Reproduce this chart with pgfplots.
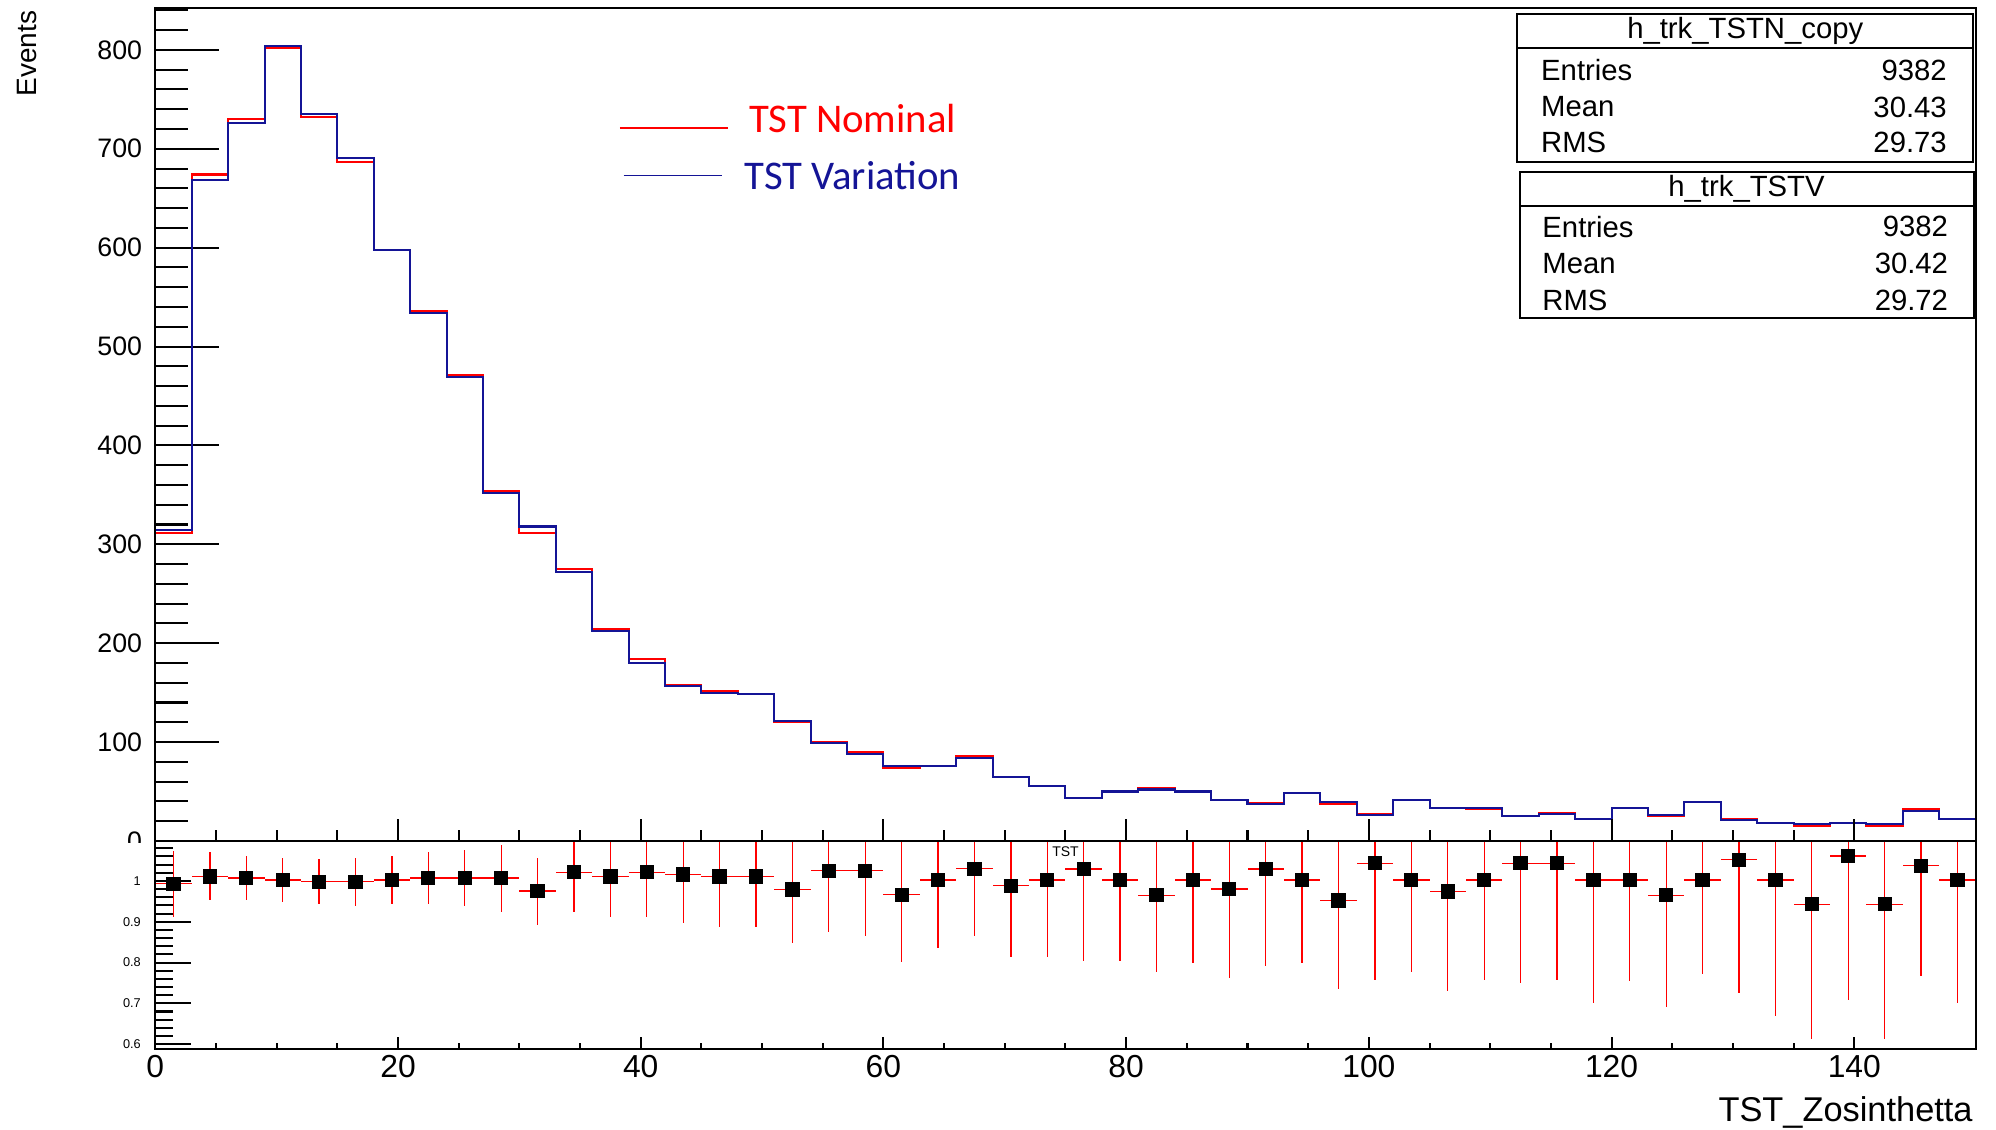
\documentclass[border=0pt]{standalone}
\usepackage{fontspec}
\setmainfont{Liberation Sans}
\newfontfamily\carlito{Carlito}
\usepackage{pgfplots}
\usepackage{pgfplotstable}
\pgfplotsset{compat=1.18}

\definecolor{rootred}{RGB}{255,0,0}
\definecolor{rootblue}{RGB}{20,20,150}

% bin left edges, nominal (n) and variation (v); last row closes the step
\pgfplotstableread{
x n v
0 311 314
3 674 668
6 730 726
9 802 804
12 732 735
15 687 691
18 598 598
21 536 534
24 471 469
27 354 352
30 311 318
33 275 272
36 214 212
39 184 180
42 158 157
45 152 150
48 149 149
51 120 121
54 100 99
57 90 88
60 74 76
63 76 76
66 86 84
69 65 65
72 56 56
75 43 43
78 50 50
81 54 52
84 50 50
87 41 41
90 38 37
93 48 48
96 37 39
99 27 26
102 41 41
105 33 33
108 32 33
111 25 25
114 28 27
117 22 22
120 33 33
123 25 26
126 39 39
129 22 21
132 18 18
135 15 17
138 18 18
141 15 17
144 32 30
147 22 22
150 22 22
}\histtab

% ratio nominal/variation with errors
\pgfplotstableread{
x y ex ey
1.5 0.993 1.5 0.081
4.5 1.011 1.5 0.059
7.5 1.007 1.5 0.055
10.5 1.002 1.5 0.054
13.5 0.998 1.5 0.055
16.5 0.998 1.5 0.059
19.5 1.002 1.5 0.059
22.5 1.007 1.5 0.064
25.5 1.007 1.5 0.068
28.5 1.007 1.5 0.082
31.5 0.975 1.5 0.082
34.5 1.021 1.5 0.096
37.5 1.011 1.5 0.100
40.5 1.021 1.5 0.110
43.5 1.016 1.5 0.118
46.5 1.011 1.5 0.123
49.5 1.011 1.5 0.123
52.5 0.979 1.5 0.131
55.5 1.025 1.5 0.150
58.5 1.025 1.5 0.159
61.5 0.966 1.5 0.164
64.5 1.002 1.5 0.167
67.5 1.030 1.5 0.164
70.5 0.988 1.5 0.175
73.5 1.002 1.5 0.189
76.5 1.029 1.5 0.226
79.5 1.002 1.5 0.199
82.5 0.965 1.5 0.189
85.5 1.002 1.5 0.203
88.5 0.980 1.5 0.218
91.5 1.029 1.5 0.238
94.5 1.002 1.5 0.203
97.5 0.952 1.5 0.217
100.5 1.043 1.5 0.285
103.5 1.002 1.5 0.226
106.5 0.974 1.5 0.243
109.5 1.002 1.5 0.244
112.5 1.043 1.5 0.293
115.5 1.043 1.5 0.285
118.5 1.002 1.5 0.300
121.5 1.002 1.5 0.248
124.5 0.965 1.5 0.275
127.5 1.002 1.5 0.230
130.5 1.052 1.5 0.327
133.5 1.002 1.5 0.334
136.5 0.943 1.5 0.331
139.5 1.061 1.5 0.352
142.5 0.943 1.5 0.331
145.5 1.037 1.5 0.269
148.5 1.002 1.5 0.300
}\ratiotab

\pgfplotsset{
  rootax/.style={
    scale only axis, width=715pt, xmin=0, xmax=150,
    axis line style={line width=0.8pt},
    major tick style={black, line width=0.8pt},
    minor tick style={black, line width=0.8pt},
    tick align=inside, tick pos=left,
    /pgf/number format/assume math mode=true,
  },
}

\begin{document}
\begin{tikzpicture}
\useasboundingbox (0,0) rectangle (784pt,-443.5pt);

% upper pad: histograms and y ticks
\begin{axis}[rootax, at={(61pt,-330.3pt)}, anchor=south west,
  height=327pt, ymin=0, ymax=842,
  ytick={0,100,...,900}, minor y tick num=4, xtick=\empty,
  major tick length=25pt, minor tick length=13pt,
  yticklabel style={font=\fontsize{10.5}{12}\selectfont, inner sep=0pt, xshift=-5pt},
]
\addplot[const plot, rootred, line width=0.8pt] table[x=x, y=n] {\histtab};
\addplot[const plot, rootblue, line width=0.8pt] table[x=x, y=v] {\histtab};
\end{axis}
% upper pad: x ticks
\begin{axis}[rootax, at={(61pt,-330.3pt)}, anchor=south west,
  height=327pt, ymin=0, ymax=842, ytick=\empty,
  xtick={0,20,...,140}, minor x tick num=3, xticklabels={},
  major tick length=8.8pt, minor tick length=4.2pt,
]
\end{axis}
\fill[white] (30pt,-331pt) rectangle (60pt,-340pt);

% lower pad: ratio and y ticks
\begin{axis}[rootax, at={(61pt,-330.3pt)}, anchor=north west,
  height=81.9pt, ymin=0.587, ymax=1.098,
  ytick={0.5,0.6,0.7,0.8,0.9,1,1.1}, minor y tick num=4, xtick=\empty,
  major tick length=14pt, minor tick length=6.8pt,
  yticklabel style={font=\fontsize{5}{6}\selectfont, inner sep=0pt, xshift=-5.5pt},
]
\addplot[only marks, mark=none, error bars/.cd, x dir=both, x explicit,
  y dir=both, y explicit, error bar style={rootred, line width=0.5pt}, error mark=none]
  table[x=x, y=y, x error=ex, y error=ey] {\ratiotab};
\addplot[only marks, mark=square*, mark size=2.6pt, black] table[x=x, y=y] {\ratiotab};
\node[font=\fontsize{5.5}{6}\selectfont, inner sep=0pt] at (axis cs:75,1.071) {TST};
\end{axis}
% lower pad: x ticks and labels
\begin{axis}[rootax, at={(61pt,-330.3pt)}, anchor=north west,
  height=81.9pt, ymin=0.587, ymax=1.098, ytick=\empty,
  xtick={0,20,...,140}, minor x tick num=3,
  major tick length=4.7pt, minor tick length=2.4pt,
  xticklabel style={font=\fontsize{12.5}{14}\selectfont, inner sep=0pt, yshift=-2pt},
]
\end{axis}

% axis titles
\node[rotate=90, anchor=east, inner sep=0pt, font=\fontsize{11}{12}\selectfont] at (10.5pt,-4pt) {Events};
\node[anchor=base east, inner sep=0pt, font=\fontsize{13.5}{15}\selectfont] at (775pt,-440.5pt) {TST\_Zosinthetta};

% legend
\draw[rootred, line width=0.6pt] (243.5pt,-50.2pt) -- (286pt,-50.2pt);
\node[anchor=base west, inner sep=0pt, text=rootred, font=\carlito\fontsize{16}{18}\selectfont] at (294pt,-52pt) {TST Nominal};
\draw[rootblue, line width=0.6pt] (244.9pt,-68.9pt) -- (283.5pt,-68.9pt);
\node[anchor=base west, inner sep=0pt, text=rootblue, font=\carlito\fontsize{16}{18}\selectfont] at (292.2pt,-74.4pt) {TST Variation};

% stat boxes
\begin{scope}[line width=0.7pt, every node/.style={inner sep=0pt, font=\fontsize{11.5}{13}\selectfont}]
\draw[fill=white] (596pt,-5.5pt) rectangle (775pt,-63.5pt);
\draw (596pt,-19pt) -- (775pt,-19pt);
\node at (685.5pt,-12.2pt) {h\_trk\_TSTN\_copy};
\node[anchor=west] at (605pt,-27.5pt) {Entries};
\node[anchor=east] at (765pt,-27.5pt) {9382};
\node[anchor=west] at (605pt,-42pt) {Mean};
\node[anchor=east] at (765pt,-42pt) {30.43};
\node[anchor=west] at (605pt,-56pt) {RMS};
\node[anchor=east] at (765pt,-56pt) {29.73};
\draw[fill=white] (597pt,-67.5pt) rectangle (775.5pt,-125pt);
\draw (597pt,-81pt) -- (775.5pt,-81pt);
\node at (686pt,-74.2pt) {h\_trk\_TSTV};
\node[anchor=west] at (605.5pt,-89pt) {Entries};
\node[anchor=east] at (765.5pt,-89pt) {9382};
\node[anchor=west] at (605.5pt,-103.5pt) {Mean};
\node[anchor=east] at (765.5pt,-103.5pt) {30.42};
\node[anchor=west] at (605.5pt,-118pt) {RMS};
\node[anchor=east] at (765.5pt,-118pt) {29.72};
\end{scope}
\end{tikzpicture}
\end{document}
